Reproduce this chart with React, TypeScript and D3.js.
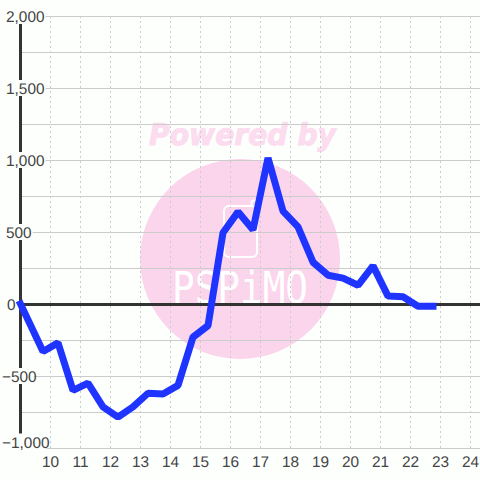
import * as d3 from "d3";

const hours = [9, 9.75, 10.25, 10.75, 11.25, 11.75, 12.25, 12.75, 13.25, 13.75, 14.25, 14.75, 15.25, 15.75, 16.25, 16.75, 17.25, 17.75, 18.25, 18.75, 19.25, 19.75, 20.25, 20.75, 21.25, 21.75, 22.25, 22.75];
const values = [0, -330, -270, -600, -550, -715, -785, -715, -620, -625, -565, -230, -150, 495, 640, 515, 1015, 645, 535, 290, 200, 180, 130, 265, 55, 50, -15, -15];
const xTicks = [10, 11, 12, 13, 14, 15, 16, 17, 18, 19, 20, 21, 22, 23, 24];
const yLabels = [2000, 1500, 1000, 500, 0, -500, -1000];
const yGrid = d3.range(-1000, 2001, 250);

const x = d3.scaleLinear().domain([9, 24]).range([20.5, 470.5]);
const y = d3.scaleLinear().domain([-1000, 2000]).range([448, 16]);
const fmt = d3.format(",");

const bg = "#fdfffd";
const textColor = "#444";
const gridColor = "#ccc";
const font = "'Liberation Sans', Arial, sans-serif";
const fontSize = 15.4;

function labelX(v: number) {
  if (v < 0) return 2;
  return v === 0 ? 7 : 6;
}

// right edge of the white box behind a y label
function labelRight(v: number) {
  const s = fmt(v);
  const digits = s.replace(/[^0-9]/g, "").length;
  const commas = s.includes(",") ? 1 : 0;
  const minus = v < 0 ? 1 : 0;
  return labelX(v) + fontSize * (0.556 * digits + 0.278 * commas + 0.333 * minus) + 1;
}

export default function App() {
  const line = d3.line<number>().x((_, i) => x(hours[i])).y((v) => y(v));

  return (
    <svg width={480} height={480} style={{ position: "fixed", left: 0, top: 0, display: "block", background: bg }} fontFamily={font} textRendering="geometricPrecision">
      {/* watermark sits under the grid */}
      <circle cx={240} cy={259} r={100} fill="#fbd5ec" />
      <text x={149} y={145} fontSize={30} fontWeight="bold" fontStyle="italic" fontFamily="'DejaVu Sans'" fill="#fcdcef" stroke="#fcdcef" strokeWidth={1} textLength={187} lengthAdjust="spacingAndGlyphs">
        Powered by
      </text>
      <rect x={224} y={206} width={33} height={51} rx={5} fill="none" stroke="#fff" strokeWidth={2} />
      <path d="M245 206 L251 206 L252 201 L256 200" fill="none" stroke="#fff" strokeWidth={2} />
      <text x={172} y={303} fontSize={44} fontFamily="'DejaVu Sans Mono'" fill="#fff" textLength={136} lengthAdjust="spacingAndGlyphs">
        PSPiMO
      </text>

      {yGrid.map((v) => (
        <line key={v} x1={20} x2={480} y1={y(v) + 0.5} y2={y(v) + 0.5} stroke={gridColor} strokeWidth={1} />
      ))}
      {xTicks.map((t) => (
        <line key={t} x1={x(t)} x2={x(t)} y1={16} y2={448} stroke={gridColor} strokeWidth={1} strokeDasharray="2,3" />
      ))}

      <line x1={20.5} x2={20.5} y1={16} y2={440} stroke="#333" strokeWidth={3} />
      <line x1={20} x2={480} y1={y(0) + 0.5} y2={y(0) + 0.5} stroke="#333" strokeWidth={3} />

      {yLabels.map((v) => {
        const cy = v === -1000 ? y(v) - 6.5 : y(v);
        return (
          <g key={v}>
            {v !== 0 && <rect x={0} y={cy - 8} width={labelRight(v)} height={16} fill={bg} />}
            <text x={labelX(v)} y={cy + 6} fontSize={fontSize} fill={textColor}>{fmt(v)}</text>
          </g>
        );
      })}
      {xTicks.map((t) => (
        <text key={t} x={x(t)} y={466.5} textAnchor="middle" fontSize={fontSize} fill={textColor}>{t}</text>
      ))}

      <path d={line(values) ?? ""} fill="none" stroke="#1f35ff" strokeWidth={7} strokeLinejoin="bevel" strokeLinecap="square" />
    </svg>
  );
}
